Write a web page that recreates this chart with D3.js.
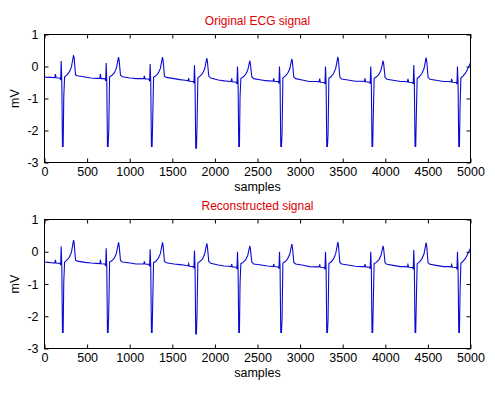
<!DOCTYPE html>
<html>
<head>
<meta charset="utf-8">
<script src="https://cdn.jsdelivr.net/npm/d3@7"></script>
<style>
  body { margin: 0; background: #fff; }
  text { font-family: "Liberation Sans", Arial, sans-serif; }
</style>
</head>
<body>
<script>
// sample positions (shared by both traces)
const samples = [
  0, 40, 86, 121, 128, 136, 181, 190, 196, 203, 211, 219, 226, 236, 261, 291, 316, 341, 348, 364, 386, 476, 546,
  614, 649, 656, 664, 709, 718, 724, 731, 739, 747, 754, 764, 789, 819, 844, 869, 876, 892, 914, 1004, 1074,
  1130, 1165, 1172, 1180, 1225, 1234, 1240, 1247, 1255, 1263, 1270, 1280, 1305, 1335, 1360, 1385, 1392, 1408, 1430, 1520, 1590,
  1650, 1685, 1692, 1700, 1745, 1754, 1760, 1767, 1775, 1783, 1790, 1800, 1825, 1855, 1880, 1905, 1912, 1928, 1950, 2040, 2110,
  2155, 2190, 2197, 2205, 2250, 2259, 2265, 2272, 2280, 2288, 2295, 2305, 2330, 2360, 2385, 2410, 2417, 2433, 2455, 2545, 2615,
  2648, 2683, 2690, 2698, 2743, 2752, 2758, 2765, 2773, 2781, 2788, 2798, 2823, 2853, 2878, 2903, 2910, 2926, 2948, 3038, 3108,
  3188, 3223, 3230, 3238, 3283, 3292, 3298, 3305, 3313, 3321, 3328, 3338, 3363, 3393, 3418, 3443, 3450, 3466, 3488, 3578, 3648,
  3719, 3754, 3761, 3769, 3814, 3823, 3829, 3836, 3844, 3852, 3859, 3869, 3894, 3924, 3949, 3974, 3981, 3997, 4019, 4109, 4179,
  4224, 4259, 4266, 4274, 4319, 4328, 4334, 4341, 4349, 4357, 4364, 4374, 4399, 4429, 4454, 4479, 4486, 4502, 4524, 4614, 4684,
  4737, 4772, 4779, 4787, 4832, 4841, 4847, 4854, 4862, 4870, 4877, 4887, 4912, 4942, 4972, 5000
];

// original ECG (mV)
const originalMv = [
  -0.33, -0.34, -0.34, -0.35, -0.24, -0.35, -0.36, -0.42, 0.17, -0.45, -2.5, -2.5, -0.95, -0.32, -0.27, -0.17, -0.02, 0.36, 0.26, -0.26, -0.29, -0.33, -0.36,
  -0.37, -0.37, -0.24, -0.38, -0.38, -0.45, 0.11, -0.45, -2.5, -2.5, -2.0, -0.32, -0.28, -0.2, -0.05, 0.29, 0.19, -0.27, -0.32, -0.36, -0.38,
  -0.38, -0.38, -0.29, -0.39, -0.39, -0.46, 0.08, -0.46, -2.5, -2.5, -1.65, -0.33, -0.3, -0.21, -0.06, 0.29, 0.19, -0.3, -0.34, -0.38, -0.41,
  -0.43, -0.45, -0.36, -0.46, -0.47, -0.52, 0.04, -0.5, -2.55, -2.55, -1.9, -0.35, -0.3, -0.22, -0.07, 0.26, 0.16, -0.3, -0.36, -0.42, -0.45,
  -0.46, -0.47, -0.37, -0.48, -0.49, -0.55, 0.0, -0.5, -2.5, -2.5, -0.95, -0.37, -0.33, -0.25, -0.12, 0.18, 0.08, -0.32, -0.38, -0.42, -0.45,
  -0.45, -0.46, -0.37, -0.47, -0.47, -0.53, 0.0, -0.5, -2.5, -2.5, -2.1, -0.35, -0.31, -0.22, -0.08, 0.24, 0.14, -0.33, -0.38, -0.43, -0.47,
  -0.47, -0.48, -0.38, -0.49, -0.5, -0.55, 0.0, -0.5, -2.5, -2.5, -2.1, -0.36, -0.32, -0.22, -0.06, 0.3, 0.2, -0.33, -0.39, -0.43, -0.46,
  -0.46, -0.47, -0.37, -0.48, -0.49, -0.54, 0.0, -0.5, -2.5, -2.5, -1.55, -0.37, -0.33, -0.25, -0.12, 0.18, 0.08, -0.34, -0.4, -0.44, -0.47,
  -0.47, -0.48, -0.39, -0.49, -0.5, -0.55, 0.05, -0.5, -2.5, -2.5, -1.55, -0.37, -0.32, -0.22, -0.07, 0.28, 0.18, -0.34, -0.4, -0.44, -0.47,
  -0.47, -0.48, -0.39, -0.49, -0.5, -0.55, 0.0, -0.5, -2.5, -2.5, -1.3, -0.36, -0.3, -0.2, -0.05, 0.12
];

// reconstructed signal (mV)
const reconstructedMv = [
  -0.32, -0.33, -0.34, -0.35, -0.25, -0.35, -0.36, -0.41, 0.16, -0.45, -2.5, -2.5, -0.94, -0.32, -0.27, -0.17, -0.02, 0.36, 0.26, -0.26, -0.29, -0.33, -0.35,
  -0.36, -0.37, -0.25, -0.37, -0.38, -0.44, 0.11, -0.45, -2.5, -2.5, -1.87, -0.32, -0.28, -0.2, -0.05, 0.29, 0.19, -0.27, -0.32, -0.35, -0.38,
  -0.38, -0.38, -0.3, -0.38, -0.39, -0.45, 0.08, -0.46, -2.5, -2.5, -1.6, -0.33, -0.3, -0.21, -0.06, 0.29, 0.19, -0.3, -0.34, -0.38, -0.4,
  -0.42, -0.44, -0.37, -0.45, -0.46, -0.51, 0.04, -0.5, -2.55, -2.55, -1.92, -0.35, -0.3, -0.22, -0.07, 0.26, 0.16, -0.3, -0.36, -0.41, -0.44,
  -0.45, -0.46, -0.38, -0.47, -0.48, -0.54, 0.0, -0.5, -2.5, -2.5, -0.99, -0.37, -0.33, -0.25, -0.12, 0.18, 0.08, -0.32, -0.38, -0.41, -0.44,
  -0.45, -0.46, -0.38, -0.46, -0.47, -0.52, 0.0, -0.5, -2.5, -2.5, -2.1, -0.35, -0.31, -0.22, -0.08, 0.24, 0.14, -0.33, -0.38, -0.42, -0.46,
  -0.47, -0.47, -0.39, -0.48, -0.49, -0.54, 0.0, -0.5, -2.5, -2.5, -2.1, -0.36, -0.32, -0.22, -0.06, 0.3, 0.2, -0.33, -0.38, -0.42, -0.45,
  -0.46, -0.46, -0.38, -0.47, -0.48, -0.53, 0.0, -0.5, -2.5, -2.5, -1.55, -0.37, -0.33, -0.25, -0.12, 0.18, 0.08, -0.34, -0.39, -0.43, -0.46,
  -0.46, -0.47, -0.4, -0.48, -0.49, -0.54, 0.05, -0.5, -2.5, -2.5, -1.55, -0.37, -0.32, -0.22, -0.07, 0.28, 0.18, -0.34, -0.39, -0.43, -0.46,
  -0.46, -0.47, -0.4, -0.48, -0.49, -0.54, 0.0, -0.5, -2.5, -2.5, -1.3, -0.36, -0.3, -0.2, -0.05, 0.12
];

const xTicks = [0, 500, 1000, 1500, 2000, 2500, 3000, 3500, 4000, 4500, 5000];
const yTicks = [-3, -2, -1, 0, 1];
const titles = ["Original ECG signal", "Reconstructed signal"];

const W = 495, H = 395;
const left = 44.5, right = 470.5;
const panels = [
  {title: titles[0], values: originalMv, top: 34.5, bottom: 162.5},
  {title: titles[1], values: reconstructedMv, top: 219.5, bottom: 348.5}
];

const svg = d3.select("body").append("svg")
  .attr("width", W).attr("height", H);

const x = d3.scaleLinear().domain([0, 5000]).range([left, right]);
const fmt = d => String(d);

panels.forEach(p => {
  const y = d3.scaleLinear().domain([-3, 1]).range([p.bottom, p.top]);
  const g = svg.append("g");

  // bottom axis (labels)
  g.append("g")
    .attr("transform", `translate(0,${p.bottom})`)
    .call(d3.axisBottom(x).tickValues(xTicks).tickFormat(fmt).tickSizeInner(-4).tickSizeOuter(0).tickPadding(5));
  // left axis (labels)
  g.append("g")
    .attr("transform", `translate(${left},0)`)
    .call(d3.axisLeft(y).tickValues(yTicks).tickFormat(fmt).tickSizeInner(-4).tickSizeOuter(0).tickPadding(6));
  // top + right ticks only
  g.append("g")
    .attr("transform", `translate(0,${p.top})`)
    .call(d3.axisTop(x).tickValues(xTicks).tickSizeInner(-4).tickSizeOuter(0).tickFormat(""));
  g.append("g")
    .attr("transform", `translate(${right},0)`)
    .call(d3.axisRight(y).tickValues(yTicks).tickSizeInner(-4).tickSizeOuter(0).tickFormat(""));

  g.selectAll(".domain").remove();
  g.selectAll(".tick text").attr("font-size", 12.5).attr("fill", "#000")
    .style("font-family", '"Liberation Sans", Arial, sans-serif');

  g.append("rect")
    .attr("x", left).attr("y", p.top)
    .attr("width", right - left).attr("height", p.bottom - p.top)
    .attr("fill", "none").attr("stroke", "#000").attr("stroke-width", 1);

  const line = d3.line()
    .x((d, i) => x(samples[i]))
    .y(d => y(d));

  g.append("path")
    .datum(p.values)
    .attr("fill", "none")
    .attr("stroke", "#0a0ad2")
    .attr("stroke-width", 1.1)
    .attr("d", line);

  g.append("text")
    .attr("x", (left + right) / 2)
    .attr("y", p.top - 10)
    .attr("text-anchor", "middle")
    .attr("font-size", 12)
    .attr("fill", "#e00000")
    .text(p.title);

  g.append("text")
    .attr("x", (left + right) / 2)
    .attr("y", p.bottom + 28)
    .attr("text-anchor", "middle")
    .attr("font-size", 12.5)
    .text("samples");

  g.append("text")
    .attr("transform", `translate(19,${(p.top + p.bottom) / 2}) rotate(-90)`)
    .attr("text-anchor", "middle")
    .attr("font-size", 12.5)
    .text("mV");
});
</script>
</body>
</html>
